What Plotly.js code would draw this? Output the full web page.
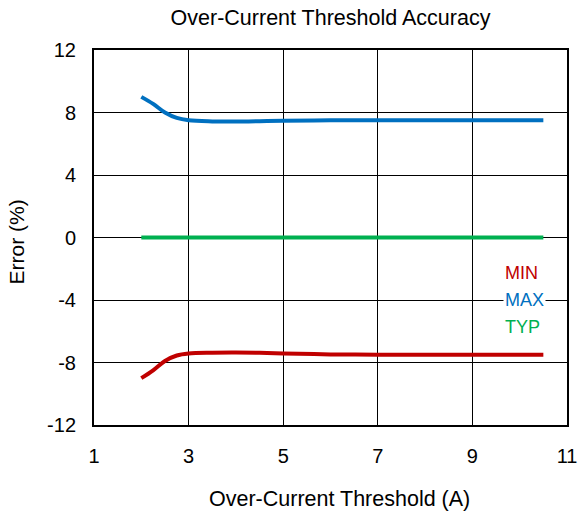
<!DOCTYPE html>
<html><head><meta charset="utf-8">
<script src="https://cdn.plot.ly/plotly-3.0.1.min.js"></script>
<style>body{margin:0;padding:0;background:#fff}</style>
</head><body>
<div id="chart" style="width:579px;height:513px"></div>
<script>
const xVals = [2, 2.25, 2.5, 2.75, 3, 3.5, 4, 4.5, 5, 6, 7, 8, 9, 10, 10.5];
const maxVals = [9.0, 8.55, 8.0, 7.65, 7.5, 7.43, 7.42, 7.44, 7.47, 7.5, 7.5, 7.5, 7.5, 7.5, 7.5];
const minVals = [-9.0, -8.5, -7.9, -7.55, -7.42, -7.37, -7.36, -7.38, -7.42, -7.48, -7.5, -7.5, -7.5, -7.5, -7.5];
const typVals = [0, 0, 0, 0, 0, 0, 0, 0, 0, 0, 0, 0, 0, 0, 0];
const legendNames = ['MIN', 'MAX', 'TYP'];
const legendY = [-2.27, -4.0, -5.73];
const colors = ['#c00000', '#0070c0', '#00b050'];
const xTicks = [1, 3, 5, 7, 9, 11];
const yTicks = [-12, -8, -4, 0, 4, 8, 12];
const xTitle = 'Over-Current Threshold (A)';
const yTitle = 'Error (%)';

const fam = 'Liberation Sans, Arial, sans-serif';
const traces = [
  {x: xVals, y: minVals, mode: 'lines', line: {color: colors[0], width: 4, shape: 'spline'}},
  {x: xVals, y: maxVals, mode: 'lines', line: {color: colors[1], width: 4, shape: 'spline'}},
  {x: xVals, y: typVals, mode: 'lines', line: {color: colors[2], width: 4}}
];
const annotations = legendNames.map((n, i) => ({
  x: 9.65, y: legendY[i], xref: 'x', yref: 'y', xanchor: 'left', yanchor: 'middle',
  text: n, showarrow: false, bgcolor: i === 1 ? '#fff' : 'rgba(0,0,0,0)', borderpad: 1,
  font: {family: fam, size: 18, color: colors[i]}
}));
annotations.push({
  text: xTitle, xref: 'paper', yref: 'paper', x: 0.518, y: -0.196,
  xanchor: 'center', yanchor: 'middle', showarrow: false, borderpad: 0,
  font: {family: fam, size: 21.5, color: '#000'}
});
annotations.push({
  text: yTitle, xref: 'paper', yref: 'paper', x: -0.164, y: 0.488, textangle: -90,
  xanchor: 'center', yanchor: 'middle', showarrow: false, borderpad: 0,
  font: {family: fam, size: 21, color: '#000'}
});
const layout = {
  width: 579, height: 513,
  margin: {l: 94, r: 12, t: 50, b: 88},
  paper_bgcolor: '#fff', plot_bgcolor: '#fff',
  showlegend: false,
  title: {text: 'Over-Current Threshold Accuracy', font: {family: fam, size: 21.5, color: '#000'},
          x: 0.5, xref: 'paper', xanchor: 'center', y: 0.965, yanchor: 'middle'},
  xaxis: {
    range: [1, 11], tickvals: xTicks, ticktext: xTicks.map(String),
    showgrid: true, gridcolor: '#000', gridwidth: 1,
    showline: true, linecolor: '#000', linewidth: 2, mirror: true,
    ticks: '', zeroline: false, ticklabelstandoff: 12,
    tickfont: {family: fam, size: 20, color: '#000'}
  },
  yaxis: {
    range: [-12, 12], tickvals: yTicks, ticktext: yTicks.map(String),
    showgrid: true, gridcolor: '#000', gridwidth: 1,
    showline: true, linecolor: '#000', linewidth: 2, mirror: true,
    ticks: '', zeroline: false, ticklabelstandoff: 12,
    tickfont: {family: fam, size: 20, color: '#000'}
  },
  annotations: annotations
};
Plotly.newPlot('chart', traces, layout, {displayModeBar: false, staticPlot: true});
</script>
</body></html>
